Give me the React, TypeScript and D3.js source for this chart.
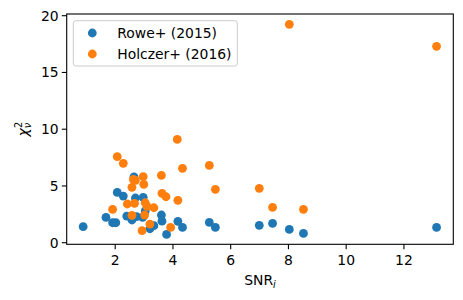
import React from "react";
import * as d3 from "d3";

const roweSNR = [0.89, 1.68, 1.91, 2.02, 2.07, 2.28, 2.40, 2.58, 2.65, 2.70, 2.74, 2.97, 2.95, 3.04, 3.20, 3.34, 3.60, 3.62, 3.78, 4.17, 4.33, 5.26, 5.47, 6.99, 7.45, 8.03, 8.52, 13.13];
const roweChi2 = [1.41, 2.23, 1.76, 1.76, 4.43, 4.11, 2.35, 2.00, 5.80, 3.94, 2.3, 4.00, 2.23, 2.8, 1.23, 1.5, 2.44, 1.9, 0.73, 1.88, 1.35, 1.79, 1.35, 1.53, 1.70, 1.17, 0.82, 1.35];

const holczerSNR = [1.91, 2.07, 2.28, 2.42, 2.58, 2.58, 2.63, 2.70, 2.67, 2.97, 2.99, 2.93, 3.02, 3.04, 3.10, 3.20, 3.34, 3.60, 3.62, 3.76, 3.92, 4.17, 4.15, 4.33, 5.26, 5.47, 6.99, 7.45, 8.03, 8.52, 13.13];
const holczerChi2 = [2.94, 7.58, 6.99, 3.41, 4.88, 2.41, 5.58, 5.5, 3.47, 5.82, 5.14, 1.06, 2.44, 3.52, 3.2, 1.64, 3.08, 5.93, 4.35, 4.05, 1.35, 3.73, 9.10, 6.55, 6.81, 4.70, 4.79, 3.11, 19.24, 2.94, 17.30];

const xTicks = [2, 4, 6, 8, 10, 12];
const yTicks = [0, 5, 10, 15, 20];
const seriesNames = ["Rowe+ (2015)", "Holczer+ (2016)"];
const colors = ["#1f77b4", "#ff7f0e"];

export default function App() {
  const W = 463, H = 300;
  const left = 66.7, right = 453.3, top = 14, bottom = 244.3;
  const x = d3.scaleLinear().domain([0.32, 13.71]).range([left, right]);
  const y = d3.scaleLinear().domain([-0.14, 20.15]).range([bottom, top]);
  const fs = 13.9;
  const font = "DejaVu Sans, sans-serif";
  const r = 4.4;
  const series = [
    { xs: roweSNR, ys: roweChi2 },
    { xs: holczerSNR, ys: holczerChi2 },
  ];
  return (
    <svg width={W} height={H} style={{ position: "absolute", left: 0, top: 0, display: "block", background: "#fff" }} fontFamily={font}>
      <rect x={0} y={0} width={W} height={H} fill="#fff" />
      {series.map((s, si) => (
        <g key={si} fill={colors[si]}>
          {s.xs.map((v, i) => (
            <circle key={i} cx={x(v)} cy={y(s.ys[i])} r={r} />
          ))}
        </g>
      ))}
      <rect x={left} y={top} width={right - left} height={bottom - top} fill="none" stroke="#000" strokeWidth={1.1} />
      {xTicks.map((t) => (
        <g key={t}>
          <line x1={x(t)} x2={x(t)} y1={bottom} y2={bottom + 4.9} stroke="#000" strokeWidth={1.1} />
          <text x={x(t)} y={bottom + 20.5} fontSize={fs} textAnchor="middle" fill="#000">{t}</text>
        </g>
      ))}
      {yTicks.map((t) => (
        <g key={t}>
          <line x1={left - 4.9} x2={left} y1={y(t)} y2={y(t)} stroke="#000" strokeWidth={1.1} />
          <text x={left - 8} y={y(t)} dy="0.36em" fontSize={fs} textAnchor="end" fill="#000">{t}</text>
        </g>
      ))}
      <text x={(left + right) / 2} y={285} fontSize={fs} textAnchor="middle" fill="#000">
        SNR<tspan fontStyle="italic" fontSize={fs * 0.7} dy="3">i</tspan>
      </text>
      <text transform={`translate(28,${(top + bottom) / 2}) rotate(-90)`} fontSize={fs} textAnchor="middle" fill="#000">
        <tspan fontStyle="italic">χ</tspan>
        <tspan fontStyle="italic" fontSize={fs * 0.7} dy="3" dx="0">ν</tspan>
        <tspan fontSize={fs * 0.7} dy="-9" dx="-5">2</tspan>
      </text>
      <rect x={73.3} y={20.7} width={164} height={45.3} rx={2.5} fill="#fff" fillOpacity={0.8} stroke="#cccccc" strokeWidth={1} />
      {seriesNames.map((n, i) => (
        <g key={n}>
          <circle cx={92.3} cy={33 + i * 21} r={r} fill={colors[i]} />
          <text x={117.3} y={33 + i * 21} dy="0.36em" fontSize={fs} fill="#000">{n}</text>
        </g>
      ))}
    </svg>
  );
}
